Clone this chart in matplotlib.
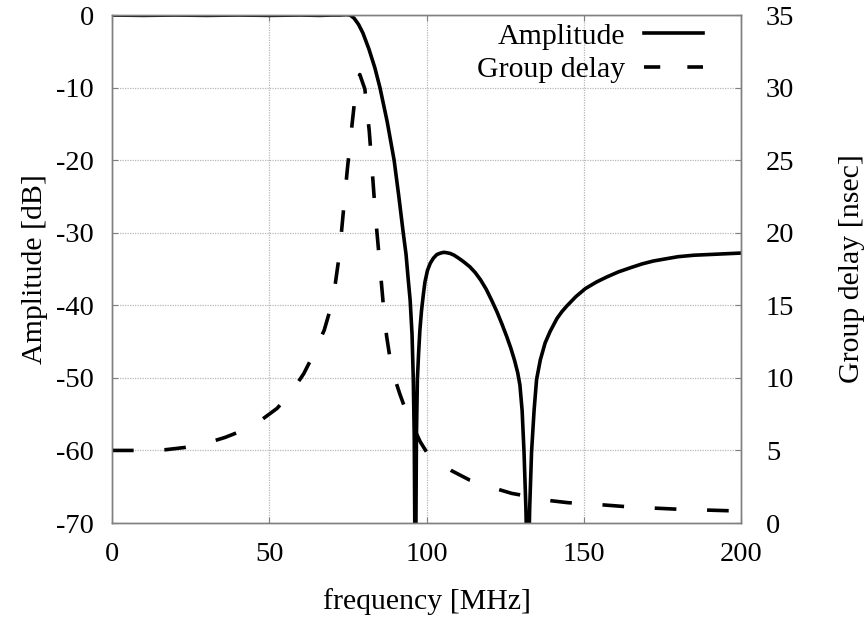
import numpy as np
import matplotlib
matplotlib.use("Agg")
import matplotlib.pyplot as plt
from matplotlib.lines import Line2D

# amplitude response [dB]
amp_freq = [0, 10, 20, 30, 40, 50, 60, 66, 70, 72.5, 74.5, 75.7, 77.0, 78.4, 79.8, 81.7,
            83.6, 85.2, 87.5, 89.7, 91.2, 92.6, 93.5, 94.2, 94.8, 95.4, 95.8, 96.1, 96.3,
            96.5, 96.8, 97.1, 97.5, 97.9, 98.4, 99.0, 99.5, 100.3, 101.2, 102.2, 103.3,
            104.5, 105.5, 106.4, 107.5, 108.8, 110.2, 111.8, 113.8, 115.5, 117.2, 119.0,
            120.7, 122.4, 124.0, 125.5, 126.8, 128.0, 129.0, 129.7, 130.4, 131.0, 131.6,
            132.2, 132.8, 133.4, 134.2, 135.0, 136.2, 137.7, 139.3, 141.5, 143.0, 144.6,
            147.5, 150.5, 154, 157.3, 161, 165, 168.5, 172.1, 176, 180, 185, 190, 195, 200]
amp_db = [0, -0.05, 0, -0.05, 0, -0.05, 0, -0.05, 0, 0, 0.05, 0, -0.45, -1.3, -2.5, -4.7,
          -7.3, -10.0, -14.7, -20.0, -25.0, -30.0, -33.0, -36.5, -39.3, -44.0, -50.2, -58.0, -72.0,
          -80.0, -58.0, -50.2, -46.5, -43.4, -40.8, -38.5, -36.8, -35.2, -34.2, -33.5, -33.0,
          -32.8, -32.7, -32.75, -32.85, -33.1, -33.5, -34.0, -34.7, -35.5, -36.5, -37.8,
          -39.3, -40.9, -42.6, -44.3, -45.9, -47.6, -49.3, -51.0, -54.5, -60.2, -68.0,
          -80.0, -68.0, -60.2, -54.5, -50.2, -47.5, -45.2, -43.6, -41.8, -40.9, -40.1, -38.8,
          -37.7, -36.8, -36.1, -35.4, -34.8, -34.3, -33.9, -33.6, -33.3, -33.1, -33.0, -32.9, -32.8]

# group delay [nsec]
gd_freq = [0, 5, 10, 17, 23, 30, 36, 43, 47.5, 52.5, 57, 61, 64.5, 67.5, 70.3, 72.3, 73.5,
           74.8, 76.2, 77.8, 78.8, 80.4, 81.8, 82.8, 83.8, 85.0, 86.2, 87.3, 88.5, 90.0,
           91.5, 93.0, 95.3, 98.0, 100, 102.1, 104, 108, 113.8, 120, 127.1, 132, 138.2,
           145, 153, 165, 180, 200]
gd_ns = [5.0, 5.0, 5.0, 5.05, 5.2, 5.5, 5.9, 6.5, 7.1, 7.9, 9.0, 10.3, 11.8, 13.3, 15.4,
         18.5, 21.3, 24.3, 27.2, 30.4, 30.9, 29.9, 27.0, 24.1, 21.1, 18.2, 15.2, 12.9,
         11.2, 9.9, 8.9, 8.0, 6.86, 5.6, 4.9, 4.56, 4.2, 3.6, 2.95, 2.5, 2.04, 1.85, 1.57,
         1.4, 1.3, 1.1, 0.95, 0.82]

xticks = [0, 50, 100, 150, 200]
yticks_amp = [-70, -60, -50, -40, -30, -20, -10, 0]
yticks_gd = [0, 5, 10, 15, 20, 25, 30, 35]

plt.rcParams['font.family'] = ['Liberation Serif', 'DejaVu Serif']
plt.rcParams['font.size'] = 20.5
plt.rcParams['axes.unicode_minus'] = False

fig = plt.figure(figsize=(8.66, 6.21), dpi=100)
ax = fig.add_axes([0.1293, 0.1578, 0.7264, 0.8180])
ax2 = ax.twinx()

ax.plot(amp_freq, amp_db, color='black', lw=2.6, solid_joinstyle='round')
ax2.plot(gd_freq, gd_ns, color='black', lw=2.6, dashes=(6.0, 8.5), dash_capstyle='butt')

ax.set_xlim(0, 200)
ax.set_ylim(-70, 0)
ax2.set_ylim(0, 35)
ax.set_xticks(xticks)
ax.set_yticks(yticks_amp)
ax2.set_yticks(yticks_gd)

ax.grid(True, color='#b8b8b8', linestyle=(0, (1, 1)), linewidth=0.9)
ax.set_axisbelow(True)

for a in (ax, ax2):
    for sp in a.spines.values():
        sp.set_color('#808080')
        sp.set_linewidth(1.0)
    a.tick_params(direction='in', length=4, color='#808080', width=0.8)
ax.tick_params(axis='x', pad=14, top=True)
ax.tick_params(axis='y', pad=13)
ax2.tick_params(axis='y', pad=18)

ax.set_xlabel('frequency [MHz]', labelpad=15, fontsize=21.5)
ax.set_ylabel('Amplitude [dB]', labelpad=6, fontsize=21.5)
ax2.set_ylabel('Group delay [nsec]', rotation=90, labelpad=32, fontsize=21.5)

# legend handles: gnuplot style sample "- -" for the dashed line
h1 = Line2D([], [], color='black', lw=2.6)
h2 = Line2D([], [], color='black', lw=2.6, dashes=(4.5, 7.5), dash_capstyle='butt')
ax2.legend([h1, h2], ['Amplitude', 'Group delay'], loc='upper right',
           bbox_to_anchor=(0.94, 0.985), frameon=False, markerfirst=False,
           fontsize=21.5, handlelength=2.0, handletextpad=0.6, labelspacing=0.22,
           borderaxespad=0.0, borderpad=0.0)

fig.savefig('out.png', dpi=100)
